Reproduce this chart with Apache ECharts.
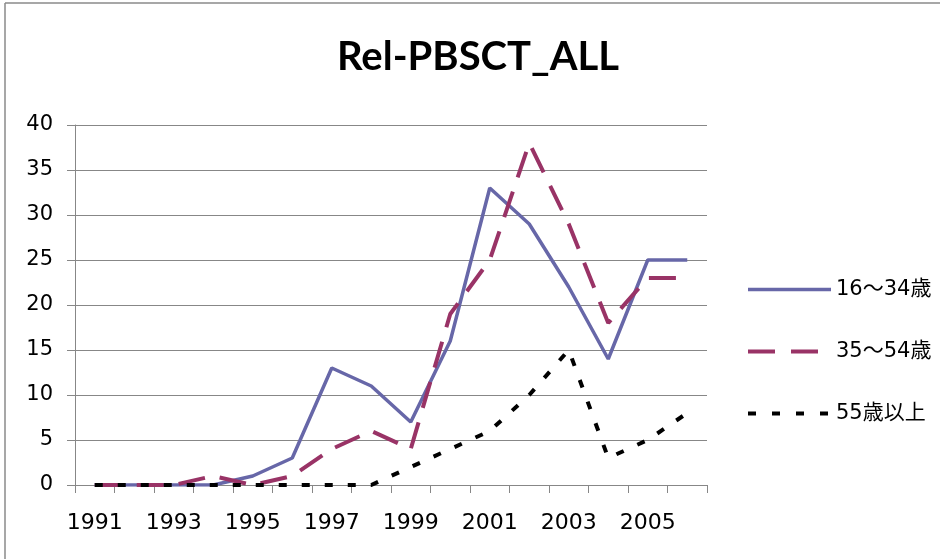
<!DOCTYPE html>
<html>
<head>
<meta charset="utf-8">
<script src="https://cdn.jsdelivr.net/npm/echarts@6/dist/echarts.min.js"></script>
<style>
html,body{margin:0;padding:0;background:#fff;}
#c{width:940px;height:559px;}
</style>
</head>
<body>
<div id="c"></div>
<script>
var categories = ['1991','1992','1993','1994','1995','1996','1997','1998','1999','2000','2001','2002','2003','2004','2005','2006'];
var seriesNames = ['16〜34歳','35〜54歳','55歳以上'];
var age16to34 = [0,0,0,0,1,3,13,11,7,16,33,29,22,14,25,25];
var age35to54 = [0,0,0,1,0,1,4,6,4,19,25,38,29,18,23,23];
var age55plus = [0,0,0,0,0,0,0,0,2,4,6,10,15,3,5,8];
var yTicks = [0,5,10,15,20,25,30,35,40];

var chart = echarts.init(document.getElementById('c'), null, {renderer:'canvas'});
var axisColor = '#878787';
var labelFont = '"DejaVu Sans", "Noto Sans CJK JP", sans-serif';
var c1 = '#6767a8', c2 = '#993366', c3 = '#000000';
chart.setOption({
  animation:false,
  backgroundColor:'#ffffff',
  graphic:[
    {type:'line', shape:{x1:5,y1:3,x2:940,y2:3}, style:{stroke:'#8a8a8a', lineWidth:1.5}},
    {type:'line', shape:{x1:5,y1:3,x2:5,y2:559}, style:{stroke:'#8a8a8a', lineWidth:1.5}},
    {type:'text', x:478, y:57, style:{text:'Rel-PBSCT_ALL', font:'bold 40px Lato, "Open Sans", sans-serif', fill:'#000', align:'center', verticalAlign:'middle'}}
  ],
  grid:{left:75, right:233, top:125, bottom:74, containLabel:false},
  legend:{
    orient:'vertical', left:746, top:279, padding:0,
    itemWidth:83, itemHeight:14, itemGap:41,
    itemStyle:{opacity:0},
    textStyle:{fontSize:21, color:'#000', fontFamily:labelFont},
    data:[
      {name:seriesNames[0], itemStyle:{opacity:0}, lineStyle:{width:3.5, color:c1}},
      {name:seriesNames[1], itemStyle:{opacity:0}, lineStyle:{width:4, color:c2, type:[27,16]}},
      {name:seriesNames[2], itemStyle:{opacity:0}, lineStyle:{width:4, color:c3, type:[8,16]}}
    ]
  },
  xAxis:{
    type:'category', data:categories, boundaryGap:true,
    axisLine:{lineStyle:{color:axisColor, width:1}},
    axisTick:{show:true, interval:0, length:8, lineStyle:{color:axisColor}},
    axisLabel:{interval:1, fontSize:22, color:'#000', margin:27, fontFamily:labelFont},
    splitLine:{show:false}
  },
  yAxis:{
    type:'value', min:yTicks[0], max:yTicks[yTicks.length-1], interval:5,
    axisLine:{show:true, lineStyle:{color:axisColor, width:1}},
    axisTick:{show:true, length:8, lineStyle:{color:axisColor}},
    axisLabel:{fontSize:21, color:'#000', margin:22, fontFamily:labelFont},
    splitLine:{show:true, lineStyle:{color:axisColor, width:1}}
  },
  series:[
    {name:seriesNames[0], type:'line', data:age16to34, symbol:'none', z:3,
     lineStyle:{color:c1, width:3.5, type:'solid'}, itemStyle:{color:c1}},
    {name:seriesNames[1], type:'line', data:age35to54, symbol:'none', z:4,
     lineStyle:{color:c2, width:4, type:[27,15]}, itemStyle:{color:c2}},
    {name:seriesNames[2], type:'line', data:age55plus, symbol:'none', z:5,
     lineStyle:{color:c3, width:4, type:[8,15]}, itemStyle:{color:c3}}
  ]
});
</script>
</body>
</html>
